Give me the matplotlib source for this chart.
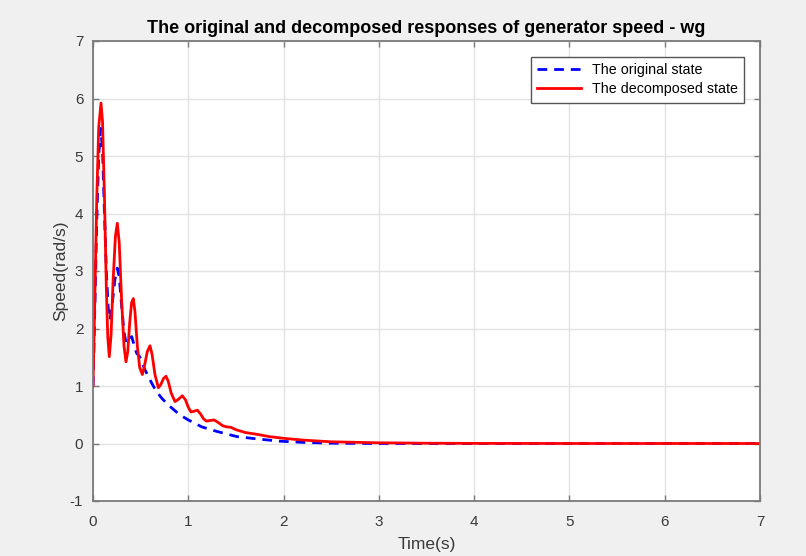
import numpy as np
import matplotlib
matplotlib.use("Agg")
import matplotlib.pyplot as plt

# readings taken from the reference chart
t_orig = [0.00, 0.02, 0.04, 0.06, 0.08, 0.10, 0.12, 0.14, 0.16, 0.178,
          0.20, 0.23, 0.255, 0.275, 0.30, 0.325, 0.346, 0.375, 0.406, 0.43,
          0.458, 0.49, 0.546, 0.616, 0.66, 0.72, 0.79, 0.91, 1.00, 1.14,
          1.30, 1.44, 1.51, 1.72, 1.96, 2.20, 2.49, 3.00, 7.00]
w_orig = [1.00, 2.40, 3.90, 5.00, 5.48, 5.10, 4.00, 3.00, 2.35, 2.15,
          2.40, 2.85, 3.05, 2.90, 2.40, 1.95, 1.75, 1.80, 1.86, 1.72,
          1.57, 1.51, 1.28, 1.05, 0.92, 0.79, 0.67, 0.50, 0.41, 0.29,
          0.21, 0.15, 0.12, 0.08, 0.04, 0.02, 0.005, 0.0, 0.0]

t_dec = [0.00, 0.02, 0.04, 0.06, 0.084, 0.10, 0.12, 0.14, 0.155, 0.171,
         0.19, 0.21, 0.235, 0.255, 0.275, 0.30, 0.325, 0.346, 0.365, 0.385,
         0.405, 0.423, 0.44, 0.465, 0.49, 0.518, 0.54, 0.57, 0.598, 0.62,
         0.65, 0.686, 0.71, 0.74, 0.766, 0.79, 0.82, 0.86, 0.89, 0.937,
         0.97, 1.00, 1.028, 1.06, 1.095, 1.13, 1.16, 1.19, 1.23, 1.27,
         1.31, 1.36, 1.40, 1.45, 1.50, 1.54, 1.60, 1.72, 1.85, 2.00,
         2.20, 2.49, 3.00, 3.50, 4.00, 5.00, 7.00]
w_dec = [1.00, 2.60, 4.30, 5.50, 5.92, 5.60, 4.30, 2.70, 1.85, 1.51,
         1.90, 2.80, 3.60, 3.83, 3.50, 2.50, 1.70, 1.42, 1.60, 2.10,
         2.45, 2.52, 2.30, 1.70, 1.32, 1.20, 1.35, 1.60, 1.70, 1.55,
         1.20, 0.97, 1.02, 1.13, 1.17, 1.08, 0.88, 0.73, 0.76, 0.83,
         0.76, 0.63, 0.55, 0.56, 0.58, 0.51, 0.43, 0.39, 0.40, 0.41,
         0.37, 0.31, 0.29, 0.28, 0.24, 0.22, 0.19, 0.16, 0.12, 0.09,
         0.06, 0.03, 0.012, 0.005, 0.002, 0.0, 0.0]

plt.rcParams['font.family'] = ['Liberation Sans', 'DejaVu Sans']
plt.rcParams['axes.unicode_minus'] = False

fig = plt.figure(figsize=(8.06, 5.56), dpi=100, facecolor='#f0f0f0')
ax = fig.add_axes([93 / 806, 55 / 556, 667 / 806, 460 / 556])
ax.set_facecolor('white')

ax.plot(t_orig, w_orig, '--', color='blue', lw=2, dashes=(3.5, 2.5),
        label='The original state')
ax.plot(t_dec, w_dec, '-', color='red', lw=2, label='The decomposed state')

ax.set_xlim(0, 7)
ax.set_ylim(-1, 7)
ax.set_xticks(range(0, 8))
ax.set_yticks(range(-1, 8))
ax.grid(True, color='#e2e2e2', lw=1)
ax.set_axisbelow(True)

for s in ax.spines.values():
    s.set_color('#7a7a7a')
    s.set_linewidth(1.3)
ax.tick_params(direction='in', top=True, right=True, length=4,
               color='#7a7a7a', labelcolor='#3a3a3a', labelsize=11,
               width=1, pad=7)
ax.tick_params(axis='x', pad=10)

ax.set_title('The original and decomposed responses of generator speed - wg',
             fontsize=13, fontweight='bold', color='black', pad=6)
ax.set_xlabel('Time(s)', fontsize=12.5, color='#3a3a3a', labelpad=6)
ax.set_ylabel('Speed(rad/s)', fontsize=12.5, color='#3a3a3a', labelpad=1)

leg = ax.legend(loc='upper right', fontsize=10.3, fancybox=False,
                framealpha=1, edgecolor='#555555', handlelength=3.05,
                handletextpad=0.75, borderaxespad=1.1, labelspacing=0.35,
                borderpad=0.45)
leg.get_frame().set_linewidth(1)

fig.savefig('out.png', dpi=100, facecolor=fig.get_facecolor())
